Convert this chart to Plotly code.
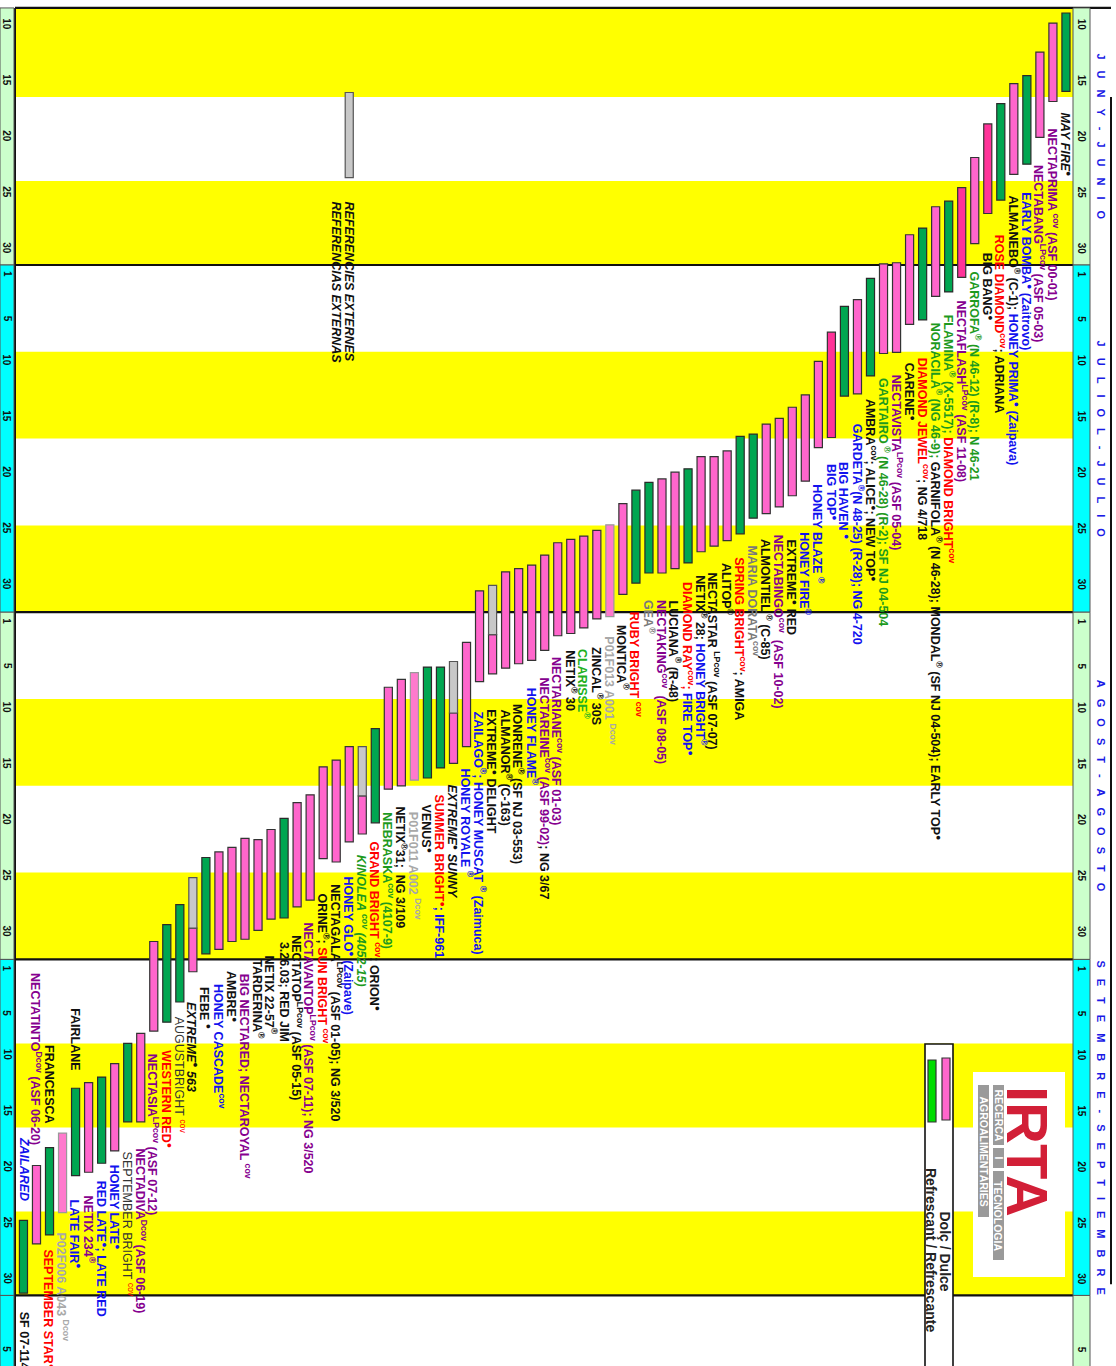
import plotly.graph_objects as go

W, H = 1116, 1366

# ------------------------------------------------------------------
# DATA  (day of season: 1 = 1 June, 31 = 1 July, 62 = 1 Aug, 93 = 1 Sep, 123 = 1 Oct)
# ------------------------------------------------------------------
month_names = ["JUNY-JUNIO", "JULIOL-JULIO", "AGOST-AGOSTO", "SETEMBRE-SEPTIEMBRE", ""]
month_first_day = [1, 31, 62, 93, 123]
month_length = [30, 31, 31, 30, 31]
month_tick_days = [[10, 15, 20, 25, 30], [1, 5, 10, 15, 20, 25, 30], [1, 5, 10, 15, 20, 25, 30],
                   [1, 5, 10, 15, 20, 25, 30], [5]]

harvest_start = [8.5, 9.4, 12.0, 14.1, 14.8, 16.6, 18.4, 21.4, 24.1, 25.3,
                 25.8, 27.7, 28.3, 30.8, 30.9, 32.2, 34.1, 34.7, 37.0, 39.6,
                 42.6, 43.7, 44.7, 45.2, 46.1, 46.3, 47.6, 48.1, 48.1, 49.2,
                 49.5, 50.1, 50.4, 51.1, 52.3, 54.2, 54.7, 55.2, 55.5, 55.8,
                 56.9, 57.8, 58.1, 58.4, 59.6, 60.1, 64.7, 66.4, 66.9, 66.9,
                 67.4, 68.0, 68.7, 72.4, 74.0, 74.0, 75.2, 75.8, 78.3, 79.0,
                 80.4, 81.4, 82.3, 82.2, 83.0, 83.4, 83.9, 85.7, 88.1, 89.9,
                 91.4, 99.6, 100.5, 102.3, 103.5, 104.0, 104.5, 108.5, 109.8, 111.4,
                 116.3]
harvest_end = [15.5, 16.4, 19.6, 22.0, 22.9, 25.2, 26.4, 29.1, 32.1, 33.4,
               33.8, 35.9, 36.3, 38.8, 38.9, 40.9, 42.5, 42.7, 46.4, 47.3,
               50.3, 51.6, 52.6, 53.2, 53.6, 55.0, 55.6, 56.1, 56.6, 57.6,
               58.1, 58.5, 58.5, 59.4, 60.4, 62.4, 62.6, 63.4, 63.9, 64.1,
               65.4, 66.3, 66.6, 67.0, 67.5, 68.2, 74.0, 75.5, 75.9, 76.8,
               77.0, 77.5, 77.8, 80.8, 81.8, 82.5, 84.3, 84.0, 87.7, 88.3,
               89.3, 89.4, 90.4, 91.2, 91.4, 92.1, 92.5, 94.1, 96.8, 98.6,
               99.4, 107.5, 107.5, 110.1, 111.2, 112.0, 112.3, 115.6, 117.6, 118.4,
               122.8]
# grey first phase (ends on this day, then pink); None = no grey phase
grey_phase_end = [None] * 44 + [64.0] + [None] * 2 + [71.0] + [None] * 6 + [78.4] + [None] * 12 + [90.2] + [None] * 13
# R = refrescant (green), D = dolç (pink), X = dolç (deep pink), N = new selection (light pink)
variety_kind = ["R", "D", "D", "R", "D", "R", "X", "D", "X", "R",
                "D", "R", "D", "D", "D", "R", "D", "R", "X", "D",
                "D", "D", "D", "D", "R", "R", "D", "D", "D", "R",
                "D", "D", "R", "R", "D", "N", "D", "D", "D", "D",
                "D", "D", "D", "D", "D", "D", "D", "D", "R", "R",
                "N", "D", "D", "R", "D", "D", "D", "D", "D", "D",
                "R", "D", "D", "D", "D", "D", "R", "D", "R", "R",
                "D", "D", "R", "D", "R", "D", "R", "N", "R", "D",
                "R"]

reference_start, reference_end, reference_column = 15.6, 23.2, 56
reference_labels = ["REFERENCIES EXTERNES", "REFERENCIAS EXTERNAS"]

K, P, B, G, G2, R, A, L, D = ("#111111", "#86008F", "#1212EE", "#1E9A1E", "#22B022",
                              "#FF0000", "#7A7A7A", "#A8A8A8", "#333333")

variety_labels = [
    [(K, "<i>MAY FIRE</i><sup>●</sup>")],
    [(P, "NECTAPRIMA<sup> cov</sup> (ASF 00-01)")],
    [(P, "NECTABANG<sup>LPcov</sup> (ASF 05-03)")],
    [(B, "EARLY BOMBA<sup>●</sup> (Zaitrovo)")],
    [(K, "ALMANEBO<sup>®</sup> (C-1); "), (B, "HONEY PRIMA<sup>●</sup> (Zaipava)")],
    [(R, "ROSE DIAMOND<sup>cov</sup>"), (K, "; ADRIANA")],
    [(K, "BIG BANG<sup>●</sup>")],
    [(G, "GARROFA<sup>®</sup> (N 46-12) (R-8); N 46-21")],
    [(P, "NECTAFLASH<sup>LPcov</sup> (ASF 11-08)")],
    [(G, "FLAMINA<sup>®</sup> (X-5517); "), (R, "DIAMOND BRIGHT<sup>cov</sup>")],
    [(G, "NORACILA<sup>®</sup> (NG 46-9); "),
     (K, "GARNIFOLA<sup>®</sup> (N 46-28); MONDAL<sup>®</sup> (SF NJ 04-504); EARLY TOP<sup>●</sup>")],
    [(R, "DIAMOND JEWEL<sup>cov</sup>"), (K, "; NG 4/718")],
    [(K, "CARENE<sup>●</sup>")],
    [(P, "NECTAVISTA<sup>LPcov</sup> (ASF 05-04)")],
    [(G, "GARTAIRO<sup> ®</sup> (N 46-28) (R-2); SF NJ 04-504")],
    [(K, "AMBRA<sup>cov</sup>; ALICE<sup>●</sup>; NEW TOP<sup>●</sup>")],
    [(B, "GARDETA<sup>®</sup>(N 48-25) (R-28); NG 4-720")],
    [(B, "BIG HAVEN <sup>●</sup>")],
    [(B, "BIG TOP<sup>●</sup>")],
    [(B, "HONEY BLAZE <sup>®</sup>")],
    [(B, "HONEY FIRE<sup>®</sup>")],
    [(K, "EXTREME<sup>●</sup> RED")],
    [(P, "NECTABINGO<sup>cov</sup>  (ASF 10-02)")],
    [(K, "ALMONTIEL<sup> ®</sup> (C-85)")],
    [(A, "MARIA DORATA<sup>cov</sup>")],
    [(R, "SPRING BRIGHT<sup>cov</sup>"), (K, "; AMIGA")],
    [(K, "ALITOP<sup>®</sup>")],
    [(K, "NECTASTAR <sup>LPcov</sup> (ASF 07-07)")],
    [(K, "NETIX<sup>®</sup> 28; "), (B, "HONEY BRIGHT<sup>®</sup>")],
    [(R, "DIAMOND RAY<sup>cov</sup>; "), (B, "FIRE TOP<sup>●</sup>")],
    [(K, "LUCIANA<sup>®</sup> (R-48)")],
    [(P, "NECTAKING<sup>cov</sup>  (ASF 08-05)")],
    [(A, "GEA<sup>®</sup>")],
    [(R, "RUBY BRIGHT <sup>cov</sup>")],
    [(K, "MONTICA<sup>®</sup>")],
    [(L, "P01F013 A001 <sup>Dcov</sup>")],
    [(K, "ZINCAL<sup>®</sup> 30S")],
    [(G2, "CLARISSE<sup>®</sup>")],
    [(K, "NETIX<sup>®</sup> 30")],
    [(P, "NECTARIANE<sup>cov</sup> (ASF 01-03)")],
    [(P, "NECTAREINE<sup>cov</sup> (ASF 99-02)"), (K, "; NG 3/67")],
    [(B, "HONEY FLAME<sup>®</sup>")],
    [(K, "MONRENE<sup>®</sup> (SF NJ 03-553)")],
    [(K, "ALMANOR<sup>®</sup> (C-163)")],
    [(K, "EXTREME<sup>●</sup> DELIGHT")],
    [(B, "ZAILAGO<sup>®</sup>; HONEY MUSCAT <sup>®</sup> (Zaimuca)")],
    [(B, "HONEY ROYALE <sup>®</sup>")],
    [(K, "<i>EXTREME<sup>●</sup> SUNNY</i>")],
    [(R, "SUMMER BRIGHT<sup>●</sup>"), (B, "; IFF-961")],
    [(K, "VENUS<sup>●</sup>")],
    [(L, "P01F011 A002 <sup>Dcov</sup>")],
    [(K, "NETIX<sup>®</sup>31;  NG 3/109")],
    [(G, "NEBRASKA<sup>cov</sup> (4107-9)")],
    [(R, "GRAND BRIGHT <sup>cov</sup>"), (K, "; ORION<sup>●</sup>")],
    [(G, "<i>KINOLEA <sup>cov</sup> (4052-15)</i>")],
    [(B, "HONEY GLO<sup>●</sup> (Zaipave)")],
    [(K, "NECTAGALA<sup>LPcov</sup> (ASF 01-05); NG 3/520")],
    [(K, "ORINE<sup>®</sup>; "), (R, "SUN BRIGHT <sup>cov</sup>")],
    [(P, "NECTAVANTOP<sup>LPcov</sup> (ASF 07-11); NG 3/520")],
    [(K, "NECTATOP<sup>LPcov</sup> (ASF 05-15)")],
    [(K, "3.26.03; RED JIM")],
    [(K, "NETIX 22-57<sup>®</sup>")],
    [(K, "TARDERINA<sup>®</sup>")],
    [(P, "BIG NECTARED; NECTAROYAL <sup>cov</sup>")],
    [(K, "AMBRE<sup>●</sup>")],
    [(B, "HONEY CASCADE<sup>cov</sup>")],
    [(K, "FEBE <sup>●</sup>")],
    [(K, "<i>EXTREME<sup>●</sup> 563</i>")],
    [(D, "AUGUSTBRIGHT "), (R, "<sup>cov</sup>")],
    [(R, "WESTERN RED<sup>●</sup>")],
    [(P, "NECTASIA<sup>LPcov</sup> (ASF 07-12)")],
    [(P, "NECTADIVA<sup>Dcov</sup> (ASF 06-19)")],
    [(D, "SEPTEMBER BRIGHT "), (R, "<sup>cov</sup>")],
    [(B, "HONEY LATE<sup>●</sup>")],
    [(B, "RED LATE<sup>●</sup>; LATE RED")],
    [(P, "NETIX 234<sup>®</sup>")],
    [(B, "LATE FAIR<sup>●</sup>")],
    [(L, "P02F006 A043 <sup>Dcov</sup>")],
    [(R, "SEPTEMBER STAR<sup>●</sup>")],
    [],
    [(K, "SF 07-114")],
]
variety_labels_before = {
    77: [(K, "FAIRLANE")],
    79: [(K, "FRANCESCA")],
    80: [(P, "NECTATINTO<sup>Dcov</sup> (ASF 06-20)")],
    81: [(B, "<i>ZAILARED</i>")],
}
light_weight_labels = {69, 73}

# ------------------------------------------------------------------
# LAYOUT / STYLE
# ------------------------------------------------------------------
label_gap_px = [19, 25, 26, 26, 19, 33, 37, 26, 21, 21,
                24, 36, 36, 20, 22, 21, 28, 64, 25, 35,
                49, 42, 26, 23, 25, 21, 20, 24, 21, 17,
                30, 25, 25, 27, 29, 18, 26, 19, 15, 19,
                25, 25, 38, 39, 33, 28, 20, 19, 25, 25,
                30, 19, 21, 17, 19, 33, 20, 33, 20, 26,
                22, 34, 27, 33, 28, 33, 31, 28, 13, 26,
                21, 25, 28, 12, 15, 21, 22, 18, 12, 0,
                17]
label_before_gap_px = {77: 15, 79: 23, 80: 18, 81: 17}

Y_TOP, Y_BOTTOM = 7.34, 129.3
X_LEFT, X_RIGHT = 82.8, -2.84
TOP_LINE = 8.05
FONT = "Liberation Sans, Arial, sans-serif"
LABEL_SIZE = 12.5

kind_style = {
    "R": ("#00A651", "#2A2A2A"),
    "D": ("#FF66CC", "#333333"),
    "X": ("#FF3399", "#333333"),
    "N": ("#FF7ACD", "#9A9A9A"),
}


def px_x(px):
    return px / W


def px_y(py):
    return 1 - py / H


def html(segs):
    return "".join(f'<span style="color:{c}">{t}</span>' for c, t in segs)


fig = go.Figure()
shapes = []
annotations = []

# yellow / white week bands
for first, length in zip(month_first_day[:4], month_length[:4]):
    for q in (1, 3):
        y0 = first + length * q / 4
        y1 = first + length * (q + 1) / 4
        if y0 - TOP_LINE < 1:
            y0 = TOP_LINE
        shapes.append(dict(type="rect", xref="paper", yref="y", x0=px_x(15), x1=px_x(1073),
                           y0=y0, y1=y1, fillcolor="#FFFF00", line=dict(width=0), layer="below"))

# month boundary lines
for first in month_first_day[1:]:
    shapes.append(dict(type="line", xref="paper", yref="y", x0=px_x(15), x1=px_x(1073),
                       y0=first, y1=first, line=dict(color="#111111", width=2.2), layer="below"))
shapes.append(dict(type="line", xref="paper", yref="y", x0=px_x(15), x1=px_x(1111),
                   y0=TOP_LINE, y1=TOP_LINE, line=dict(color="#111111", width=2.2), layer="below"))
shapes.append(dict(type="line", xref="paper", yref="y", x0=px_x(15), x1=px_x(15),
                   y0=TOP_LINE, y1=Y_BOTTOM, line=dict(color="#111111", width=2), layer="below"))
shapes.append(dict(type="line", xref="paper", yref="y", x0=px_x(1111), x1=px_x(1111),
                   y0=16, y1=122, line=dict(color="#111111", width=2), layer="below"))

# day strips (left and right) and month names
left_cols = ["#CCFFCC", "#00FFFF", "#CCFFCC", "#00FFFF", "#00FFFF"]
right_cols = ["#CCFFCC", "#00FFFF", "#CCFFCC", "#00FFFF", "#CCFFCC"]
for i, (first, length) in enumerate(zip(month_first_day, month_length)):
    y0 = max(first, TOP_LINE)
    y1 = min(first + length, Y_BOTTOM + 1)
    for (xa, xb, cols) in ((0, 14, left_cols), (1073, 1090, right_cols)):
        shapes.append(dict(type="rect", xref="paper", yref="y", x0=px_x(xa), x1=px_x(xb),
                           y0=y0, y1=y1, fillcolor=cols[i], line=dict(color="#555555", width=1)))
    for d in month_tick_days[i]:
        v = first + d - 1.5 + (1.3 if d in (1, 5) else 0)
        for xc in (7, 1081.5):
            annotations.append(dict(xref="paper", yref="y", x=px_x(xc), y=v, text=str(d),
                                    textangle=90, showarrow=False, xanchor="center", yanchor="middle",
                                    font=dict(family=FONT, size=10, color="#111111", weight="bold")))
    if month_names[i]:
        mid = (max(first, TOP_LINE) + first + length) / 2
        spaced = "\u2003".join(month_names[i])
        annotations.append(dict(xref="paper", yref="y", x=px_x(1101), y=mid, text=spaced,
                                textangle=90, showarrow=False, xanchor="center", yanchor="middle",
                                font=dict(family=FONT, size=11, color="#1A1AE6", weight="bold")))

# ------------------------------------------------------------------
# bars
# ------------------------------------------------------------------
columns = list(range(1, len(harvest_start) + 1))
BAR_W = 0.62
for kind, (fill, edge) in kind_style.items():
    xs, bases, lens = [], [], []
    for c, s, e, k, g in zip(columns, harvest_start, harvest_end, variety_kind, grey_phase_end):
        if k != kind:
            continue
        b0 = g if g is not None else s
        xs.append(c)
        bases.append(b0)
        lens.append(e - b0)
    fig.add_trace(go.Bar(x=xs, y=lens, base=bases, width=BAR_W, hoverinfo="skip", showlegend=False,
                         marker=dict(color=fill, line=dict(color=edge, width=1.2))))

gx, gb, gl = [], [], []
for c, s, g in zip(columns, harvest_start, grey_phase_end):
    if g is not None:
        gx.append(c)
        gb.append(s)
        gl.append(g - s)
gx.append(reference_column)
gb.append(reference_start)
gl.append(reference_end - reference_start)
fig.add_trace(go.Bar(x=gx, y=gl, base=gb, width=BAR_W, hoverinfo="skip", showlegend=False,
                     marker=dict(color="#C8C8C8", line=dict(color="#555555", width=1.2))))

# variety labels
for idx, (c, s, e, segs, gap) in enumerate(zip(columns, harvest_start, harvest_end,
                                               variety_labels, label_gap_px), start=1):
    weight = "normal" if idx in light_weight_labels else "bold"
    if segs:
        annotations.append(dict(xref="x", yref="y", x=c, y=e, text=html(segs), textangle=90,
                                showarrow=False, xanchor="center", yanchor="top", yshift=-gap,
                                font=dict(family=FONT, size=LABEL_SIZE, color=K, weight=weight)))
    if idx in variety_labels_before:
        annotations.append(dict(xref="x", yref="y", x=c, y=s, text=html(variety_labels_before[idx]),
                                textangle=90, showarrow=False, xanchor="center", yanchor="bottom",
                                yshift=label_before_gap_px[idx],
                                font=dict(family=FONT, size=LABEL_SIZE, color=K, weight="bold")))

for j, t in enumerate(reference_labels):
    annotations.append(dict(xref="x", yref="y", x=reference_column + j, y=reference_end,
                            text=f"<i>{t}</i>", textangle=90, showarrow=False, xanchor="center",
                            yanchor="top", yshift=-22,
                            font=dict(family=FONT, size=LABEL_SIZE, color=K, weight="bold")))

# ------------------------------------------------------------------
# legend box
# ------------------------------------------------------------------
shapes.append(dict(type="rect", xref="paper", yref="paper", x0=px_x(925), x1=px_x(953),
                   y0=px_y(1044), y1=px_y(1372), fillcolor="white", line=dict(color="#111111", width=1.6)))
shapes.append(dict(type="rect", xref="paper", yref="paper", x0=px_x(942), x1=px_x(950),
                   y0=px_y(1058), y1=px_y(1120), fillcolor="#FF66CC", line=dict(color="#333333", width=1.2)))
shapes.append(dict(type="rect", xref="paper", yref="paper", x0=px_x(928), x1=px_x(936),
                   y0=px_y(1060), y1=px_y(1122), fillcolor="#00DD00", line=dict(color="#333333", width=1.2)))
annotations.append(dict(xref="paper", yref="paper", x=px_x(944.5), y=px_y(1209), text="Dolç / Dulce",
                        textangle=90, showarrow=False, xanchor="center", yanchor="top",
                        font=dict(family=FONT, size=14, color="#222222", weight="bold")))
annotations.append(dict(xref="paper", yref="paper", x=px_x(931), y=px_y(1166),
                        text="Refrescant / Refrescante", textangle=90, showarrow=False,
                        xanchor="center", yanchor="top",
                        font=dict(family=FONT, size=14, color="#222222", weight="bold")))

# ------------------------------------------------------------------
# IRTA logo
# ------------------------------------------------------------------
shapes.append(dict(type="rect", xref="paper", yref="paper", x0=px_x(973), x1=px_x(1065),
                   y0=px_y(1072), y1=px_y(1277), fillcolor="white", line=dict(width=0)))
annotations.append(dict(xref="paper", yref="paper", x=px_x(1028), y=px_y(1151), text="IRTA",
                        textangle=90, showarrow=False, xanchor="center", yanchor="middle",
                        font=dict(family=FONT, size=58, color="#D21F37", weight="bold")))
for (xa, xb, ya, yb, t) in ((993, 1004, 1085, 1145, "RECERCA"), (993, 1004, 1148, 1168, "I"),
                            (993, 1004, 1171, 1260, "TECNOLOGIA"),
                            (978, 989, 1085, 1217, "AGROALIMENTÀRIES")):
    shapes.append(dict(type="rect", xref="paper", yref="paper", x0=px_x(xa), x1=px_x(xb),
                       y0=px_y(ya), y1=px_y(yb), fillcolor="#9A9A9A", line=dict(width=0)))
    annotations.append(dict(xref="paper", yref="paper", x=px_x((xa + xb) / 2), y=px_y((ya + yb) / 2),
                            text=t, textangle=90, showarrow=False, xanchor="center", yanchor="middle",
                            font=dict(family=FONT, size=10.5, color="white", weight="bold")))

fig.update_layout(
    width=W, height=H,
    margin=dict(l=0, r=0, t=0, b=0),
    paper_bgcolor="white", plot_bgcolor="white",
    barmode="overlay",
    xaxis=dict(range=[X_LEFT, X_RIGHT], visible=False, fixedrange=True),
    yaxis=dict(range=[Y_BOTTOM, Y_TOP], visible=False, fixedrange=True),
    shapes=shapes,
    annotations=annotations,
    showlegend=False,
)

fig.write_html("out.html", config={"displayModeBar": False},
               post_script="document.body.style.margin='0';document.body.style.overflow='hidden';")
